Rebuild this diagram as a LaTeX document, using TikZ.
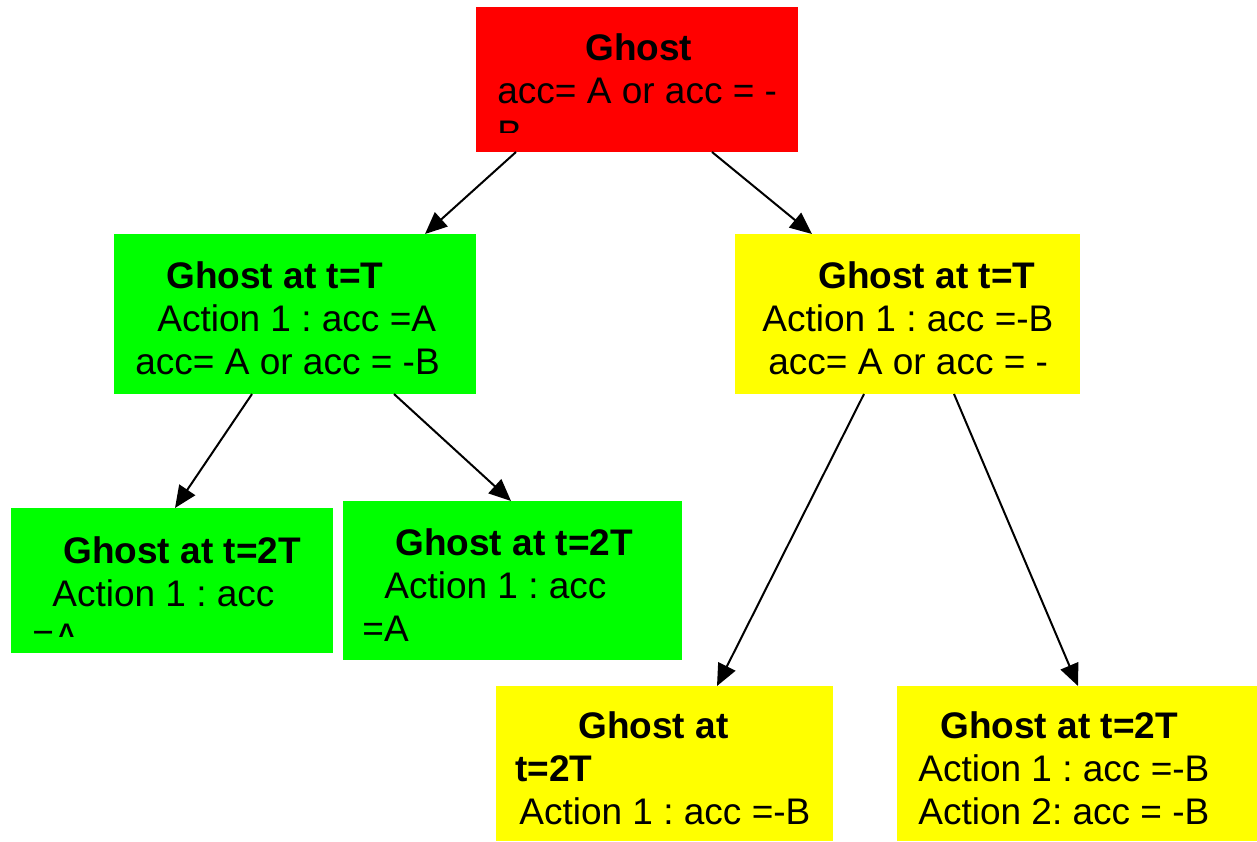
\documentclass[tikz,border=0pt]{standalone}
\usepackage{fontspec}
\setmainfont{Liberation Sans}
\usetikzlibrary{arrows.meta,calc}
\definecolor{rootfill}{HTML}{FF0000}
\definecolor{accfill}{HTML}{00FF00}
\definecolor{negfill}{HTML}{FFFF00}
\frenchspacing

\begin{document}
\begin{tikzpicture}[
  x=0.5pt, y=-0.5pt,
  ghostbox/.style={
    anchor=north west,
    inner sep=0pt,
    outer sep=0pt,
    fill=#1
  },
  boxtext/.style={
    anchor=north west,
    inner sep=0pt,
    align=left,
    font=\fontsize{18.5}{21.5}\selectfont
  },
  arrow/.style={-{Triangle[length=11pt,width=9.5pt]}, line width=1pt}
]
\useasboundingbox (0,0) rectangle (1257,841);

% Boxes
\node[ghostbox=rootfill, minimum width=161pt, minimum height=72.5pt] (root) at (476,7) {};
\node[ghostbox=accfill, minimum width=181pt, minimum height=80pt] (accT) at (114,234) {};
\node[ghostbox=negfill, minimum width=172.5pt, minimum height=80pt] (negT) at (735,234) {};
\node[ghostbox=accfill, minimum width=161pt, minimum height=72.5pt] (accA) at (11,508) {};
\node[ghostbox=accfill, minimum width=169.5pt, minimum height=79.5pt] (accB) at (343,501) {};
\node[ghostbox=negfill, minimum width=168.5pt, minimum height=77.5pt] (negA) at (496,686) {};
\node[ghostbox=negfill, minimum width=180pt, minimum height=77.5pt] (negB) at (897,686) {};

% Texts
\begin{scope}
  \clip (root.north west) rectangle ($(root.south east)+(0,-20)$);
  \node[boxtext] (rootText) at (497,30) {\hspace{44pt}\textbf{Ghost}\strut\\acc= A or acc = -\\B};
\end{scope}
\node[boxtext] (accTText) at (135,258) {\hspace{15.5pt}\textbf{Ghost at t=T}\strut\\\hspace{11pt}Action 1 : acc =A\\acc= A or acc = -B};
\node[boxtext] (negTText) at (762,258) {\hspace{28pt}\textbf{Ghost at t=T}\strut\\Action 1 : acc =-B\\\hspace{3pt}acc= A or acc = -};
\begin{scope}
  \clip (accA.north west) rectangle ($(accA.south east)+(0,-17)$);
  \node[boxtext] (accAText) at (32,533) {\hspace{15.5pt}\textbf{Ghost at t=2T}\strut\\\hspace{10pt}Action 1 : acc\\=A};
\end{scope}
\node[boxtext] (accBText) at (362,525) {\hspace{16.5pt}\textbf{Ghost at t=2T}\strut\\\hspace{11pt}Action 1 : acc\\=A};
\node[boxtext] (negAText) at (515,708) {\hspace{31.5pt}\textbf{Ghost at}\strut\\\textbf{t=2T}\\\hspace{2pt}Action 1 : acc =-B};
\node[boxtext] (negBText) at (918,708) {\hspace{11pt}\textbf{Ghost at t=2T}\strut\\Action 1 : acc =-B\\Action 2: acc = -B};

% Connectors
\draw[arrow] ($(root.south west)+(40,0)$) -- ($(accT.north west)+(311,0)$);
\draw[arrow] ($(root.south west)+(236,0)$) -- ($(negT.north west)+(77,0)$);
\draw[arrow] ($(accT.south west)+(138,0)$) -- ($(accA.north west)+(164,0)$);
\draw[arrow] ($(accT.south west)+(280,0)$) -- ($(accB.north west)+(168,0)$);
\draw[arrow] ($(negT.south west)+(129,0)$) -- ($(negA.north west)+(221,0)$);
\draw[arrow] ($(negT.south west)+(219,0)$) -- ($(negB.north west)+(181,0)$);

\end{tikzpicture}
\end{document}
